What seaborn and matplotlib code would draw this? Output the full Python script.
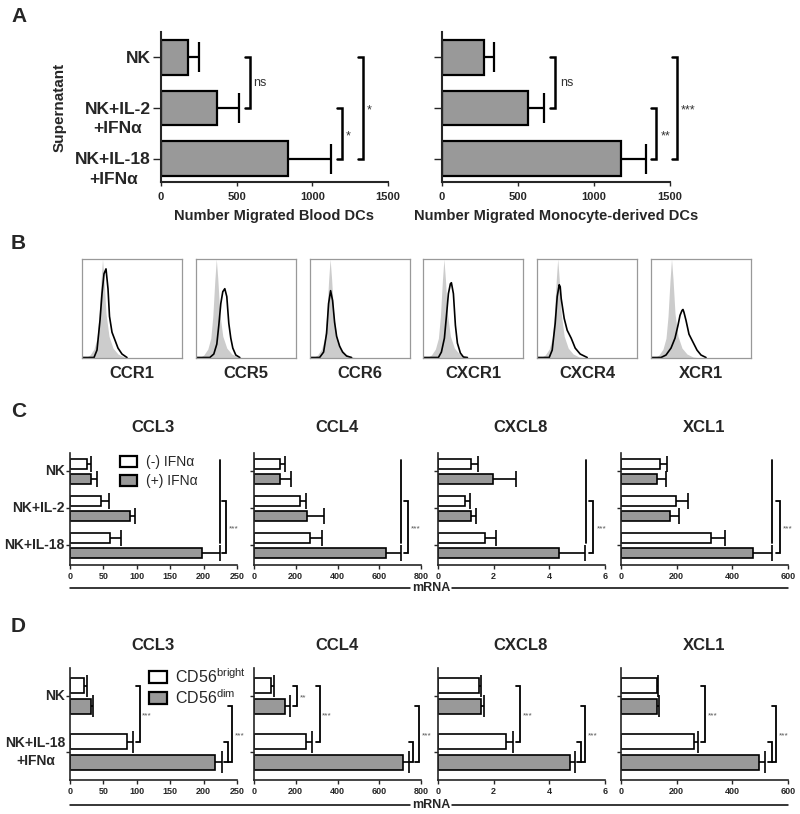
import numpy as np
import pandas as pd
import matplotlib
matplotlib.use("Agg")
import matplotlib.pyplot as plt
import seaborn as sns
from matplotlib.lines import Line2D
from matplotlib.patches import Patch

sns.set_style("ticks")
plt.rcParams["font.family"] = ["Liberation Sans", "DejaVu Sans"]
plt.rcParams["mathtext.default"] = "regular"
plt.rcParams["axes.linewidth"] = 1.2
NARROW = ["Liberation Sans Narrow", "Liberation Sans", "DejaVu Sans"]
GREY = "#999999"
W, H = 800, 814

# ---------------- data ----------------
# A: migrated DCs towards NK supernatants (mean, SEM)
a_groups = ["NK", "NK+IL-2\n+IFNα", "NK+IL-18\n+IFNα"]
a_blood = [180, 368, 841]
a_blood_sem = [73, 145, 282]
a_mono = [276, 568, 1176]
a_mono_sem = [68, 103, 166]

# B: histogram outlines (x: channel 0-100, y: % of max)
b_markers = ["CCR1", "CCR5", "CCR6", "CXCR1", "CXCR4", "XCR1"]
iso_x = [0, 3, 8, 12, 15, 17, 19, 20.5, 22, 24, 27, 31, 36, 42, 50]
iso_y = [0, 0, 3, 9, 20, 42, 78, 100, 80, 45, 22, 10, 4, 1, 0]
ccr1_x = [0, 12, 15, 18, 20, 22, 24, 26, 27.5, 30, 33, 36, 40, 45]
ccr1_y = [0.5, 0.5, 8, 38, 65, 85, 90, 70, 42, 26, 18, 10, 4, 0.5]
ccr5_x = [0, 14, 18, 21, 23, 25, 27, 29, 31, 33, 35, 37, 40, 44]
ccr5_y = [0.5, 0.5, 4, 14, 33, 55, 67, 70, 62, 35, 20, 10, 3, 0.5]
ccr6_x = [0, 10, 14, 17, 19, 21, 23, 25, 27, 30, 33, 37, 42]
ccr6_y = [0.5, 0.5, 6, 25, 55, 68, 58, 36, 22, 12, 6, 2, 0.5]
cxcr1_x = [0, 15, 18, 21, 23, 25, 27, 28, 30, 32, 34, 37, 40, 44]
cxcr1_y = [0.5, 0.5, 6, 20, 42, 65, 75, 76, 65, 33, 15, 5, 1, 0.5]
cxcr4_x = [0, 12, 15, 18, 20, 22, 23, 24, 25.5, 27, 30, 34, 38, 43, 50]
cxcr4_y = [0.5, 0.5, 8, 35, 62, 74, 72, 60, 50, 40, 28, 20, 10, 4, 0.5]
xcr1_x = [0, 10, 15, 20, 24, 27, 29, 31, 32, 33, 35, 38, 42, 46, 50, 55]
xcr1_y = [0.5, 0.5, 3, 10, 20, 33, 43, 48, 49, 46, 38, 24, 16, 8, 3, 0.5]
b_curves = [(ccr1_x, ccr1_y), (ccr5_x, ccr5_y), (ccr6_x, ccr6_y),
            (cxcr1_x, cxcr1_y), (cxcr4_x, cxcr4_y), (xcr1_x, xcr1_y)]

# C: mRNA, NK cells with or without IFNα
c_genes = ["CCL3", "CCL4", "CXCL8", "XCL1"]
c_groups = ["NK", "NK+IL-2", "NK+IL-18"]
c_levels = ["(-) IFNα", "(+) IFNα"]
c_minus = [[25, 47, 60], [126, 222, 266], [1.17, 0.96, 1.70], [140, 197, 325]]
c_minus_sem = [[6, 11, 16], [21, 26, 60], [0.25, 0.20, 0.39], [26, 44, 48]]
c_plus = [[31, 90, 198], [126, 254, 630], [1.97, 1.17, 4.36], [128, 176, 474]]
c_plus_sem = [[9, 7, 27], [53, 82, 74], [0.84, 0.20, 0.93], [33, 33, 70]]
c_xmax = [250, 800, 6, 600]
c_xstep = [50, 200, 2, 200]

# D: mRNA, CD56bright vs CD56dim
d_groups = ["NK", "NK+IL-18\n+IFNα"]
d_levels = ["CD56$^{bright}$", "CD56$^{dim}$"]
d_bright = [[21, 86], [83, 251], [1.46, 2.45], [128, 264]]
d_bright_sem = [[4, 9], [11, 29], [0.07, 0.26], [6, 11]]
d_dim = [[32, 217], [150, 715], [1.55, 4.74], [131, 495]]
d_dim_sem = [[3, 11], [21, 29], [0.12, 0.18], [6, 24]]

# significance brackets: (x, y0, y1, tick, label, label_x)
a_blood_sig = [(588, 0, 1, 33, "ns", 612), (1196, 1, 2, 33, "*", 1224),
               (1335, 0, 2, 33, "*", 1360)]
a_mono_sig = [(745, 0, 1, 33, "ns", 776), (1410, 1, 2, 33, "**", 1437),
              (1548, 0, 2, 33, "***", 1572)]
c_sig = [
    [(224, -0.32, 1.93, 0, None, 0), (234, 0.8, 2.2, 6, "***", 238)],
    [(704, -0.32, 1.93, 0, None, 0), (739, 0.8, 2.2, 19, "***", 752)],
    [(5.32, -0.32, 1.93, 0, None, 0), (5.58, 0.8, 2.2, 0.14, "***", 5.7)],
    [(544, -0.32, 1.93, 0, None, 0), (570, 0.8, 2.2, 14, "***", 581)],
]
d_sig = [
    [(104.6, -0.18, 0.82, 6, "***", 108), (237, 0.82, 1.18, 6, None, 0),
     (243, 0.18, 1.18, 6, "***", 247)],
    [(206, -0.18, 0.18, 19, "**", 219), (315, -0.18, 0.82, 19, "***", 324),
     (763, 0.82, 1.18, 19, None, 0), (792, 0.18, 1.18, 19, "***", 804)],
    [(2.93, -0.18, 0.82, 0.14, "***", 3.05), (5.14, 0.82, 1.18, 0.14, None, 0),
     (5.28, 0.18, 1.18, 0.14, "***", 5.38)],
    [(301, -0.18, 0.82, 14, "***", 313), (543, 0.82, 1.18, 14, None, 0),
     (556, 0.18, 1.18, 14, "***", 566)],
]

fig = plt.figure(figsize=(W / 100, H / 100), dpi=100)


def add_ax(x0, y0, x1, y1):
    return fig.add_axes([x0 / W, 1 - y1 / H, (x1 - x0) / W, (y1 - y0) / H])


def fig_text(x, y, s, **kw):
    fig.text(x / W, 1 - y / H, s, **kw)


def fig_line(x0, x1, y):
    fig.add_artist(Line2D([x0 / W, x1 / W], [1 - y / H, 1 - y / H],
                          transform=fig.transFigure, color="black", lw=1.1))


def style_axis(ax, xmax, step, labelsize, ylen, pad=2):
    sns.despine(ax=ax)
    ax.set_xlim(0, xmax)
    ax.set_xticks(np.arange(0, xmax + step / 2, step))
    ax.tick_params(axis="x", length=3, width=1, pad=pad, labelsize=labelsize)
    ax.tick_params(axis="y", length=ylen, width=1, labelleft=False)
    for lab in ax.get_xticklabels():
        lab.set_fontfamily(NARROW)
        lab.set_fontweight("bold")
    ax.set_xlabel("")
    ax.set_ylabel("")


def group_labels(ax, labels, fs, pad, first_on_tick):
    tr = ax.get_yaxis_transform()
    for i, lab in enumerate(labels):
        dy = 0.37 * fs * 100 / 72 if first_on_tick else 0
        ax.annotate(lab, xy=(0, i), xycoords=tr, xytext=(-pad, dy),
                    textcoords="offset pixels", ha="right",
                    va="top" if first_on_tick else "center",
                    multialignment="center", linespacing=1.4,
                    fontsize=fs, fontweight="bold")


def brackets(ax, specs, lw, fs, color):
    for x, y0, y1, tick, label, lx in specs:
        ax.plot([x - tick, x, x, x - tick], [y0, y0, y1, y1], color="black",
                lw=lw, clip_on=False, solid_joinstyle="miter")
        if label:
            # asterisks sit high in the em box, nudge them down a little
            dy = -0.22 * fs * 100 / 72 if label.startswith("*") else 0
            ax.annotate(label, xy=(lx, (y0 + y1) / 2), xytext=(0, dy),
                        textcoords="offset pixels", ha="left", va="center",
                        fontsize=fs, color=color, annotation_clip=False)


def upper_errors(ax, vals, ys, errs, lw, capsize):
    # SEM drawn to the right of the bar only
    _, caps, _ = ax.errorbar(vals, ys, xerr=[np.zeros(len(vals)), errs],
                             fmt="none", ecolor="black", elinewidth=lw,
                             capsize=capsize, capthick=lw)
    for c in caps:
        if np.allclose(c.get_xdata(), vals):
            c.set_visible(False)


def grouped_bars(ax, groups, levels, means, sems, width, gap, capsize):
    rows = []
    for lev, vals in zip(levels, means):
        for g, v in zip(groups, vals):
            rows.append((g, lev, v))
    df = pd.DataFrame(rows, columns=["group", "level", "value"])
    sns.barplot(data=df, x="value", y="group", hue="level", hue_order=levels,
                palette=dict(zip(levels, ["white", GREY])), orient="h",
                width=width, gap=gap, saturation=1, errorbar=None,
                edgecolor="black", linewidth=1.2, legend=False, ax=ax)
    for cont, vals, errs in zip(ax.containers, means, sems):
        ys = [b.get_y() + b.get_height() / 2 for b in cont]
        upper_errors(ax, vals, ys, errs, 1.2, capsize)


# ---------------- panel A ----------------
fig_text(11, 17, "A", fontsize=15, fontweight="bold", va="center")
a_axes = [(161, 388, a_blood, a_blood_sem, a_blood_sig, "Number Migrated Blood DCs"),
          (442, 670, a_mono, a_mono_sem, a_mono_sig,
           "Number Migrated Monocyte-derived DCs")]
for x0, x1, vals, sems, sig, xlabel in a_axes:
    ax = add_ax(x0, 32, x1, 182)
    df = pd.DataFrame({"group": a_groups, "value": vals})
    sns.barplot(data=df, x="value", y="group", orient="h", color=GREY,
                saturation=1, width=0.69, errorbar=None, edgecolor="black",
                linewidth=1.6, ax=ax)
    ys = [p.get_y() + p.get_height() / 2 for p in ax.patches]
    upper_errors(ax, vals, ys, sems, 1.6, 11)
    style_axis(ax, 1500, 500, 8, 6, pad=4)
    ax.set_ylim(2.46, -0.5)
    for s in ax.spines.values():
        s.set_linewidth(1.5)
    brackets(ax, sig, 1.8, 9, "#333333")
    fig_text((x0 + x1) / 2, 216, xlabel, ha="center", va="center",
             fontsize=10.5, fontweight="bold", family=NARROW)
    if x0 == 161:
        group_labels(ax, a_groups, 12.5, 10, True)
fig_text(60, 107, "Supernatant", rotation=90, ha="center", va="center",
         fontsize=11, fontweight="bold")

# ---------------- panel B ----------------
fig_text(11, 244, "B", fontsize=15, fontweight="bold", va="center")
for i, (name, (cx, cy)) in enumerate(zip(b_markers, b_curves)):
    bx = 82 + i * 113.8
    ax = add_ax(bx, 259, bx + 100, 358)
    ax.fill_between(iso_x, iso_y, color="#cccccc", lw=0)
    sns.lineplot(x=cx, y=cy, color="black", lw=1.2, sort=False,
                 estimator=None, ax=ax)
    ax.set_xlim(0, 100)
    ax.set_ylim(0, 100)
    ax.set_xticks([])
    ax.set_yticks([])
    for s in ax.spines.values():
        s.set_color("#999999")
        s.set_linewidth(0.9)
    fig_text(bx + 50, 373, name, ha="center", va="center", fontsize=12,
             fontweight="bold")

# ---------------- panels C and D ----------------
c_x = [70, 254, 438, 621]
panels = [
    ("C", 411, 427, 453, 565, 588, c_groups, c_levels, c_minus, c_minus_sem,
     c_plus, c_plus_sem, c_sig, 0.8, 0.35, 6, (2.53, -0.5), 5.5),
    ("D", 627, 645, 668, 780, 805, d_groups, d_levels, d_bright, d_bright_sem,
     d_dim, d_dim_sem, d_sig, 0.72, 0.25, 8, (1.5, -0.5), 4.5),
]
for (letter, ly, ty, y0, y1, my, groups, levels, m0, s0, m1, s1, sig,
     width, gap, cap, ylim, pad) in panels:
    fig_text(11, ly, letter, fontsize=15, fontweight="bold", va="center")
    for k, gene in enumerate(c_genes):
        ax = add_ax(c_x[k], y0, c_x[k] + 167, y1)
        grouped_bars(ax, groups, levels, [m0[k], m1[k]], [s0[k], s1[k]],
                     width, gap, cap)
        style_axis(ax, c_xmax[k], c_xstep[k], 6.5, 3)
        ax.set_ylim(*ylim)
        brackets(ax, sig[k], 1.3, 6, "#555555")
        fig_text(c_x[k] + 83, ty, gene, ha="center", va="center",
                 fontsize=12, fontweight="bold")
        if k == 0:
            group_labels(ax, groups, 10, pad, False)
    fig_line(70, 410, my)
    fig_line(452, 788, my)
    fig_text(431, my, "mRNA", ha="center", va="center", fontsize=9,
             fontweight="bold", family=NARROW)

# legends
c_handles = [Patch(facecolor=c, edgecolor="black", linewidth=1.6, label=l)
             for c, l in zip(["white", GREY], c_levels)]
fig.legend(handles=c_handles, loc="upper left",
           bbox_to_anchor=(120 / W, 1 - 455 / H), frameon=False, fontsize=10,
           handlelength=1.2, handleheight=0.85, handletextpad=0.7,
           labelspacing=0.35, borderpad=0, borderaxespad=0)
d_handles = [Patch(facecolor=c, edgecolor="black", linewidth=1.6, label=l)
             for c, l in zip(["white", GREY], d_levels)]
fig.legend(handles=d_handles, loc="upper left",
           bbox_to_anchor=(149 / W, 1 - 667 / H), frameon=False, fontsize=11.5,
           handlelength=1.1, handleheight=0.8, handletextpad=0.5,
           labelspacing=0.15, borderpad=0, borderaxespad=0)

fig.savefig("out.png", dpi=100)
